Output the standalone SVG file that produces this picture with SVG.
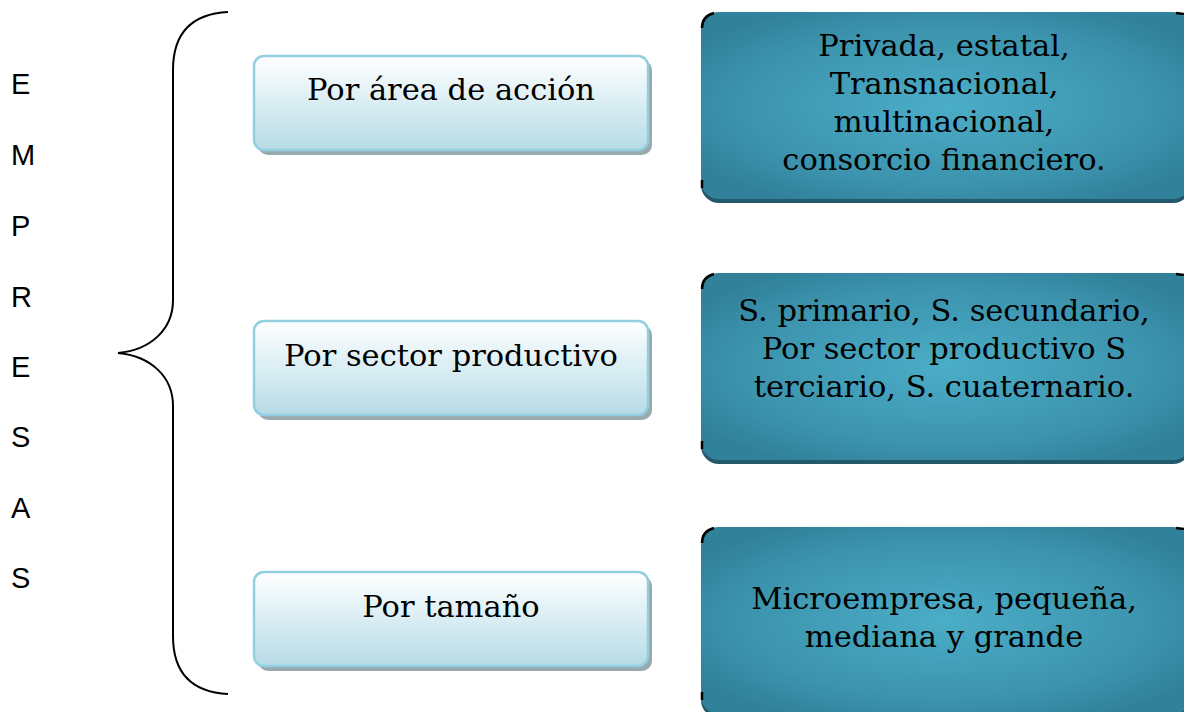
<svg xmlns="http://www.w3.org/2000/svg" width="1184" height="712" viewBox="0 0 1184 712">
<defs>
<linearGradient id="lg" x1="0" y1="0" x2="0" y2="1">
<stop offset="0" stop-color="#ffffff"/>
<stop offset="0.55" stop-color="#d6ecf2"/>
<stop offset="1" stop-color="#b7dbe6"/>
</linearGradient>
<radialGradient id="rg" cx="0.5" cy="0.5" r="0.6">
<stop offset="0" stop-color="#4badc7"/>
<stop offset="0.7" stop-color="#3c93ad"/>
<stop offset="1" stop-color="#31819a"/>
</radialGradient>
<style>
.lb{fill:url(#lg);stroke:#92cfe0;stroke-width:2.5}
.ls{fill:#9aa9ae}
.rb{fill:url(#rg)}
.rs{fill:#24596b}
.t{font-family:"DejaVu Serif","Liberation Serif",serif;font-size:30.5px;fill:#000;text-anchor:middle}
.v{font-family:"Liberation Sans",Arial,sans-serif;font-size:29px;fill:#000}
.br{fill:none;stroke:#000;stroke-width:2}
.ck{fill:none;stroke:#000;stroke-width:2.5}
</style>
</defs>
<g id="vertical-label">
<text class="v" x="11" y="94">E</text>
<text class="v" x="11" y="165">M</text>
<text class="v" x="11" y="236">P</text>
<text class="v" x="11" y="307">R</text>
<text class="v" x="11" y="377">E</text>
<text class="v" x="11" y="447">S</text>
<text class="v" x="11" y="518">A</text>
<text class="v" x="11" y="588">S</text>
</g>
<g id="connectors">
<path class="br" d="M228,12 C190,14 173,35 173,70 L173,300 C173,330 150,350 118,353 C150,356 173,376 173,406 L173,636 C173,672 190,692 228,694"/>
</g>
<g id="n-area">
<rect class="ls" x="258" y="60" width="394" height="95" rx="10"/>
<rect class="lb" x="254" y="56" width="394" height="94" rx="10"/>
<text class="t" x="451" y="100">Por área de acción</text>
</g>
<g id="n-sector">
<rect class="ls" x="258" y="325" width="394" height="95" rx="10"/>
<rect class="lb" x="254" y="321" width="394" height="94" rx="10"/>
<text class="t" x="451" y="366">Por sector productivo</text>
</g>
<g id="n-tamano">
<rect class="ls" x="258" y="576" width="394" height="95" rx="10"/>
<rect class="lb" x="254" y="572" width="394" height="94" rx="10"/>
<text class="t" x="451" y="617">Por tamaño</text>
</g>
<g id="r-area">
<rect class="rs" x="701" y="16" width="490" height="187" rx="18"/>
<rect class="rb" x="701" y="12" width="490" height="187" rx="18"/>
<path class="ck" d="M702,28 C702,20 706,15 714,13"/>
<path class="ck" d="M702,180 L702,188"/>
<path class="ck" d="M1176,13 L1184,14"/>
<text class="t" x="944" y="56">Privada, estatal,</text>
<text class="t" x="944" y="94">Transnacional,</text>
<text class="t" x="944" y="132">multinacional,</text>
<text class="t" x="944" y="170">consorcio financiero.</text>
</g>
<g id="r-sector">
<rect class="rs" x="701" y="277" width="490" height="187" rx="18"/>
<rect class="rb" x="701" y="273" width="490" height="187" rx="18"/>
<path class="ck" d="M702,289 C702,281 706,276 714,274"/>
<path class="ck" d="M702,441 L702,449"/>
<path class="ck" d="M1176,274 L1184,275"/>
<text class="t" x="944" y="321">S. primario, S. secundario,</text>
<text class="t" x="944" y="359">Por sector productivo S</text>
<text class="t" x="944" y="397">terciario, S. cuaternario.</text>
</g>
<g id="r-tamano">
<rect class="rs" x="701" y="531" width="490" height="187" rx="18"/>
<rect class="rb" x="701" y="527" width="490" height="187" rx="18"/>
<path class="ck" d="M702,543 C702,535 706,530 714,528"/>
<path class="ck" d="M702,692 L702,700"/>
<path class="ck" d="M1176,528 L1184,529"/>
<text class="t" x="944" y="609">Microempresa, pequeña,</text>
<text class="t" x="944" y="647">mediana y grande</text>
</g>
</svg>
